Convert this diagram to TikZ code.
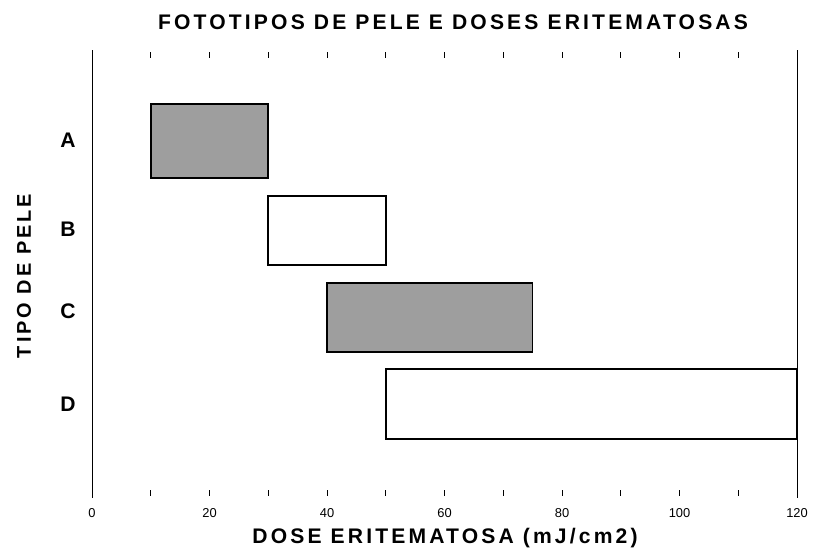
\documentclass[tikz,border=0pt]{standalone}
\usepackage{fontspec}
\setmainfont{Liberation Sans}
\usetikzlibrary{positioning}

\begin{document}
\begin{tikzpicture}[x=0.03cm,y=-0.03cm,
    bar/.style={draw,line width=1.3pt},
    shaded/.style={bar,fill=black!38},
    letter/.style={font=\bfseries\fontsize{18}{18}\selectfont},
    caption/.style={font=\bfseries\addfontfeature{LetterSpace=15}},
    ticklabel/.style={font=\fontsize{11}{11}\selectfont},
    tickmark/.style={line width=0.5pt}]
    \useasboundingbox (0,0) rectangle (813,555);
    % titles
    \node[caption] (title) at (453,22) {\fontsize{18}{18}\selectfont FOTOTIPOS DE PELE E DOSES ERITEMATOSAS};
    \node[caption] (xlabel) at (445,538) {\fontsize{18}{18}\selectfont DOSE ERITEMATOSA (mJ/cm2)};
    \node[caption,rotate=90] (ylabel) at (24,276) {\fontsize{17}{17}\selectfont TIPO DE PELE};

    % axes
    \draw[line width=0.8pt] (92,50) -- (92,498);
    \draw[line width=0.8pt] (797,50) -- (797,498);
    \foreach \v in {10,20,...,110} {
        \draw[tickmark] ({92+5.875*\v},52) -- ({92+5.875*\v},58);
        \draw[tickmark] ({92+5.875*\v},490) -- ({92+5.875*\v},496);
    }
    \foreach \v in {0,20,...,120}
        \node[ticklabel] (t\v) at ({92+5.875*\v},513) {\v};

    % skin types
    \node[letter] (lA) at (68,140) {A};
    \node[letter] (lB) at (68,229) {B};
    \node[letter] (lC) at (68,311) {C};
    \node[letter] (lD) at (68,404) {D};

    % bars
    \draw[shaded] ({92+5.875*10},104) rectangle ({92+5.875*30},178);
    \draw[bar] ({92+5.875*30},196) rectangle ({92+5.875*50},265);
    \draw[shaded] ({92+5.875*40},283) rectangle ({92+5.875*75},352);
    \draw[bar] ({92+5.875*50},369) rectangle ({92+5.875*120},439);
\end{tikzpicture}
\end{document}
